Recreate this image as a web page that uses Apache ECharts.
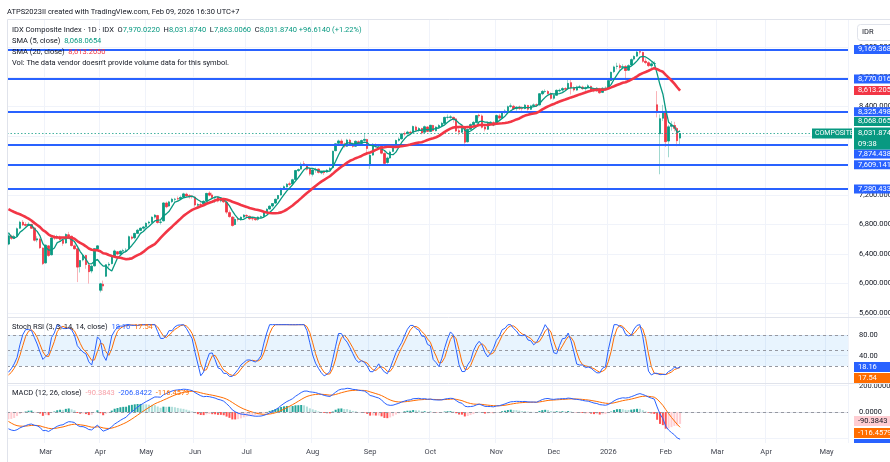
<!DOCTYPE html>
<html><head><meta charset="utf-8">
<script src="https://cdn.jsdelivr.net/npm/echarts@6/dist/echarts.min.js"></script>
<style>html,body{margin:0;padding:0;background:#fff}#c{width:890px;height:462px}</style>
</head><body><div id="c"></div>
<script>
// ---------- DATA ----------
// closes before the first visible bar (Oct 2024 - Feb 11 2025), only used to warm up indicators
const warmupCloses = [7642,7540,7528,7496,7504,7520,7479,7501,7556,7626,7658,7773,7760,7657,7637,7584,7670,7602,7606,7574,7504,7575,7632,
 7505,7480,7492,7383,7243,7287,7266,7321,7308,7214,7161,7134,7195,7180,7141,7195,7314,7200,7114,7114,
 7114,7236,7326,7313,7383,7347,7464,7395,7376,7324,7257,7157,7107,6977,6983,7097,7065,7036,7080,
 7164,7080,7080,7083,7080,7097,7088,7016,7028,7079,7107,7154,7170,7231,7257,7232,7166,7073,7109,
 6997,7073,7030,6875,6742,6648,6531];
const firstDate = '2025-02-12';
const lastDate = '2026-05-13';
const holidays = ['2025-03-28','2025-03-31','2025-04-01','2025-04-02','2025-04-03','2025-04-04','2025-04-07','2025-04-18',
 '2025-05-01','2025-05-12','2025-05-13','2025-05-29','2025-05-30','2025-06-06','2025-06-09','2025-06-27','2025-08-18',
 '2025-09-05','2025-12-24','2025-12-25','2025-12-26','2025-12-31','2026-01-01','2026-01-16','2026-02-16','2026-02-17',
 '2026-03-18','2026-03-19','2026-03-20','2026-03-23','2026-03-24','2026-04-03','2026-05-01','2026-05-14'];
// daily [open, high, low, close]
const ohlc = [
 [6535,6680,6520,6645],[6640,6660,6590,6613],[6610,6660,6600,6638],[6640,6760,6630,6742],[6750,6850,6740,6830],[6830,6860,6780,6794],[6800,6830,6770,6788],[6790,6830,6780,6803],[6800,6810,6740,6749],[6750,6760,6570,6587],[6590,6640,6560,6605],[6600,6620,6470,6485],[6480,6490,6250,6270],
 [6280,6530,6270,6519],[6510,6520,6360,6381],[6390,6630,6380,6617],[6620,6660,6590,6617],[6620,6660,6600,6636],[6630,6650,6580,6598],[6590,6600,6510,6545],[6550,6680,6540,6665],[6660,6700,6630,6647],[6640,6650,6500,6515],[6510,6530,6460,6471],[6470,6480,6020,6223],[6230,6320,6150,6311],[6320,6400,6300,6381],[6380,6390,6200,6258],[6250,6260,6000,6161],[6170,6260,6140,6235],[6240,6480,6230,6472],[6470,6520,6450,6510],
 [5910,6010,5880,5996],[5990,6040,5900,5967],[6100,6260,6090,6254],[6250,6290,6220,6262],[6270,6380,6260,6368],[6370,6460,6360,6441],[6430,6440,6380,6400],[6400,6450,6390,6438],[6440,6470,6420,6445],[6450,6480,6420,6450],[6470,6650,6460,6634],[6630,6650,6590,6613],[6620,6690,6600,6678],[6680,6740,6670,6722],[6720,6760,6710,6749],[6750,6780,6730,6766],
 [6770,6830,6750,6815],[6820,6850,6800,6832],[6830,6910,6820,6898],[6900,6940,6880,6927],[6920,6930,6810,6827],[6830,6870,6800,6832],[6850,7100,6840,7091],[7090,7110,7020,7040],[7050,7120,7040,7106],[7110,7160,7090,7141],[7140,7160,7110,7142],[7150,7180,7120,7146],[7150,7190,7130,7166],[7170,7230,7160,7214],[7210,7230,7170,7186],[7190,7210,7150,7176],[7180,7200,7150,7175],
 [7170,7180,7040,7065],[7060,7090,7030,7070],[7070,7100,7040,7069],[7080,7130,7070,7113],[7120,7230,7110,7220],[7225,7250,7180,7197],[7200,7230,7150,7166],[7160,7180,7090,7166],[7170,7180,7100,7117],[7120,7170,7100,7155],[7150,7160,7090,7107],[7100,7110,6940,6968],[6960,6990,6890,6907],[6900,6910,6770,6787],[6800,6900,6790,6869],[6870,6900,6840,6869],[6870,6910,6850,6897],[6900,6940,6880,6927],
 [6920,6940,6900,6915],[6910,6920,6860,6878],[6880,6900,6850,6878],[6880,6890,6850,6865],[6870,6910,6850,6900],[6900,6920,6880,6904],[6910,6970,6900,6954],[6960,7020,6950,7005],[7010,7060,7000,7047],[7050,7090,7030,7083],[7090,7150,7080,7141],[7150,7200,7130,7192],[7200,7300,7190,7287],[7290,7330,7280,7311],[7310,7360,7300,7345],[7350,7380,7320,7344],[7350,7420,7340,7405],[7410,7540,7400,7530],[7530,7560,7510,7543],[7550,7640,7540,7614],[7620,7660,7590,7617],[7610,7620,7530,7549],[7550,7560,7460,7484],
 [7480,7550,7450,7538],[7540,7570,7500,7546],[7550,7560,7490,7506],[7500,7530,7480,7515],[7510,7530,7470,7503],[7510,7550,7500,7533],[7540,7580,7530,7557],[7570,7800,7560,7791],[7800,7900,7790,7892],[7900,7950,7880,7931],[7930,7960,7880,7898],[7890,7910,7840,7862],[7860,7960,7850,7943],[7940,7960,7880,7890],[7890,7910,7840,7858],[7860,7940,7850,7926],[7920,7940,7880,7900],[7900,7950,7890,7936],[7940,8040,7930,7952],[7950,7960,7760,7830],
 [7620,7760,7550,7736],[7740,7900,7730,7885],[7880,7900,7840,7859],[7860,7890,7830,7867],[7860,7880,7750,7766],[7760,7790,7600,7628],[7640,7720,7620,7699],[7700,7800,7690,7780],[7790,7870,7780,7854],[7860,7950,7850,7937],[7940,7980,7920,7957],[7960,8040,7950,8025],[8030,8060,8000,8027],[8030,8070,8020,8051],[8050,8070,8020,8040],[8050,8140,8040,8126],[8120,8140,8060,8075],[8080,8120,8050,8099],[8100,8110,8020,8040],[8050,8140,8040,8123],[8120,8130,8050,8061],
 [8060,8150,8050,8143],[8140,8150,8060,8071],[8070,8130,8060,8118],[8120,8160,8100,8139],[8140,8190,8130,8170],[8170,8260,8160,8250],[8250,8290,8220,8251],[8250,8280,8230,8257],[8250,8260,8180,8227],[8230,8240,8050,8066],[8070,8100,8010,8051],[8050,8140,8040,8124],[8120,8130,7860,7915],[7920,8100,7910,8088],[8090,8170,8080,8152],[8150,8200,8120,8182],[8180,8280,8170,8274],[8280,8300,8240,8271],[8270,8290,8100,8117],[8120,8140,8060,8092],[8090,8180,8080,8167],[8170,8200,8150,8184],[8180,8200,8130,8164],
 [8170,8290,8160,8275],[8270,8300,8220,8241],[8240,8330,8230,8318],[8320,8360,8300,8337],[8340,8410,8330,8394],[8400,8440,8380,8406],[8400,8420,8350,8366],[8370,8400,8340,8388],[8390,8410,8350,8372],[8370,8400,8340,8370],[8370,8430,8360,8416],[8410,8420,8340,8362],[8360,8420,8350,8406],[8410,8440,8390,8419],[8420,8440,8390,8414],[8420,8580,8410,8570],[8570,8620,8550,8602],[8600,8630,8580,8602],[8600,8620,8560,8574],[8570,8590,8490,8508],
 [8510,8560,8490,8548],[8550,8630,8540,8616],[8610,8640,8590,8617],[8620,8660,8600,8640],[8640,8660,8610,8632],[8640,8760,8630,8710],[8720,8770,8560,8650],[8650,8670,8600,8622],[8620,8680,8610,8660],[8660,8690,8640,8660],[8660,8680,8620,8640],[8640,8670,8610,8650],[8650,8700,8640,8677],[8670,8680,8600,8619],[8620,8640,8590,8609],[8610,8660,8600,8645],[8640,8650,8570,8584],[8590,8660,8580,8644],[8640,8670,8620,8646],
 [8650,8760,8640,8748],[8750,8870,8740,8860],[8870,8950,8850,8933],[8940,8990,8900,8944],[8950,8980,8890,8925],[8930,8970,8900,8936],[8940,8960,8750,8885],[8890,8970,8880,8950],[8960,9050,8950,9032],[9040,9090,9020,9075],[9080,9150,9070,9133],[9140,9169,9100,9134],[9130,9140,8990,9010],[9010,9050,8970,8992],[8990,9010,8930,8951],[8950,9000,8920,8975],[8980,9010,8940,8980],[8420,8606,8250,8320],[8030,8290,7480,8232],[8240,8420,8200,8329],
 [8330,8340,7850,7922],[7930,8150,7710,8122],[8130,8200,8070,8146],[8140,8190,8060,8103],[8100,8120,7860,7935],[7970.022,8031.874,7863.006,8031.874]
];
const levels = [9169.368, 8770.016, 8325.498, 7874.438, 7609.141, 7280.433];
const lastPrice = 8031.874;
const priceTicks = [5600,6000,6400,6800,7200,7600,8000,8400,8800,9200];
const stochTicks = [40,80];
const stochBands = [80,50,20];
const macdLabelTicks = [0,200];
const macdGridTicks = [-200,0,200];
const monthNames = ['Jan','Feb','Mar','Apr','May','Jun','Jul','Aug','Sep','Oct','Nov','Dec'];
const legendVals = {o:'7,970.0220',h:'8,031.8740',l:'7,863.0060',c:'8,031.8740',chg:'+96.6140 (+1.22%)',sma5:'8,068.0654',sma20:'8,613.2050',
  k:'18.16',d:'17.54',hist:'-90.3843',macd:'-206.8422',signal:'-116.4579'};
const axisBoxes = {sma5:8068.065, sma20:8613.205, k:18.16, d:17.54, hist:-90.3843, macd:-206.8422, signal:-116.4579};

// ---------- helpers ----------
const hol = new Set(holidays);
function buildDates(){
  const out=[]; let t=Date.parse(firstDate+'T00:00:00Z'); const end=Date.parse(lastDate+'T00:00:00Z');
  while(t<=end){ const d=new Date(t); const wd=d.getUTCDay(); const s=d.toISOString().slice(0,10);
    if(wd!==0&&wd!==6&&!hol.has(s)) out.push(s); t+=86400000; }
  return out;
}
const dates = buildDates();
const monthStart = new Set();
for(let i=1;i<dates.length;i++){ if(dates[i].slice(0,7)!==dates[i-1].slice(0,7)) monthStart.add(i); }
function fmtLabel(v){ const m=+v.slice(5,7); return m===1? v.slice(0,4) : monthNames[m-1]; }

function sma(arr,n){const out=[];for(let i=0;i<arr.length;i++){if(i<n-1){out.push(null);continue;}let s=0,ok=true;for(let j=i-n+1;j<=i;j++){if(arr[j]==null){ok=false;break;}s+=arr[j];}out.push(ok?s/n:null);}return out;}
function ema(arr,n){const k=2/(n+1);let p=null;return arr.map(v=>{if(v==null)return null;p=p==null?v:v*k+p*(1-k);return p;});}
function rsi(arr,n){const out=[null];let ag=0,al=0;for(let i=1;i<arr.length;i++){const ch=arr[i]-arr[i-1];const g=Math.max(ch,0),l=Math.max(-ch,0);
  if(i<=n){ag+=g/n;al+=l/n;out.push(i<n?null:(al===0?100:100-100/(1+ag/al)));}else{ag=(ag*(n-1)+g)/n;al=(al*(n-1)+l)/n;out.push(al===0?100:100-100/(1+ag/al));}}return out;}
function stoch(arr,n){return arr.map((v,i)=>{if(i<n-1)return null;const w=arr.slice(i-n+1,i+1);if(w.some(x=>x==null))return null;const mn=Math.min(...w),mx=Math.max(...w);return mx===mn?0:(v-mn)/(mx-mn)*100;});}

const closes = warmupCloses.concat(ohlc.map(r=>r[3]));
const W = warmupCloses.length;
const sma5 = sma(closes,5).slice(W);
const sma20 = sma(closes,20).slice(W);
const r14 = rsi(closes,14);
const kLine = sma(stoch(r14,14),3);
const dLine = sma(kLine,3);
const kVis = kLine.slice(W), dVis = dLine.slice(W);
const e12 = ema(closes,12), e26 = ema(closes,26);
const macd = e12.map((v,i)=>v-e26[i]);
const sig = ema(macd,9);
const hist = macd.map((v,i)=>v-sig[i]);
const macdVis = macd.slice(W), sigVis = sig.slice(W);
const histVis = hist.slice(W).map((v,i,a)=>{
  const prev = i>0?a[i-1]:hist[W-1];
  let c; if(v>=0) c = v>prev?'#26a69a':'#b2dfdb'; else c = v<prev?'#ff5252':'#ffcdd2';
  return {value:v,itemStyle:{color:c}};
});

const FONT = 'Roboto, sans-serif';
const TXT = '#131722';
const GRIDC = '#f0f3fa';

function xAxis(idx,showLabel){
  return {type:'category',gridIndex:idx,data:dates,boundaryGap:true,
    axisLine:{show:showLabel,lineStyle:{color:'#e0e3eb'}},axisTick:{show:false},
    axisLabel:{show:showLabel,interval:(i)=>monthStart.has(i),formatter:(v)=>fmtLabel(v),color:'#434651',fontSize:7.5,fontFamily:FONT,margin:5},
    splitLine:{show:true,interval:(i)=>monthStart.has(i),lineStyle:{color:GRIDC,width:1}}};
}
function yAxis(idx,min,max,labelVals,gridVals,fmt){
  return {type:'value',gridIndex:idx,position:'right',min:min,max:max,
    axisLine:{show:false},axisTick:{show:false,customValues:gridVals},
    axisLabel:{customValues:labelVals,formatter:fmt,color:TXT,fontSize:7.5,fontFamily:FONT,margin:11},
    splitLine:{show:true,lineStyle:{color:GRIDC,width:1}}};
}
const fmtPrice = v=>v.toLocaleString('en-US',{minimumFractionDigits:3,maximumFractionDigits:3});

const option = {
  animation:false, backgroundColor:'#ffffff',
  grid:[{left:7,right:42,top:20,height:297,outerBoundsMode:'none'},{left:7,right:42,top:318,height:65,outerBoundsMode:'none'},{left:7,right:42,top:384,height:59,outerBoundsMode:'none'}],
  xAxis:[xAxis(0,false),xAxis(1,false),xAxis(2,true)],
  yAxis:[yAxis(0,5547,9569,priceTicks,priceTicks,fmtPrice),
         yAxis(1,-12.8,112.9,stochTicks,stochTicks,v=>v.toFixed(2)),
         yAxis(2,-235.7,213,macdLabelTicks,macdGridTicks,v=>v.toFixed(4))],
  series:[
    {type:'candlestick',xAxisIndex:0,yAxisIndex:0,barWidth:2,
     data:ohlc.map(r=>[r[0],r[3],r[2],r[1]]),
     itemStyle:{color:'rgba(8,153,129,0.38)',color0:'rgba(242,54,69,0.38)',borderColor:'rgba(8,153,129,0.38)',borderColor0:'rgba(242,54,69,0.38)',borderWidth:1},
     markLine:{silent:true,symbol:'none',animation:false,label:{show:false},
       data:levels.map(v=>({yAxis:v,lineStyle:{color:'#2962ff',width:2,type:'solid'}})).concat([{yAxis:lastPrice,lineStyle:{color:'rgba(8,153,129,0.75)',width:1,type:[1.5,2]}}])}},
    {type:'candlestick',xAxisIndex:0,yAxisIndex:0,barWidth:2,
     data:ohlc.map(r=>[r[0],r[3],Math.min(r[0],r[3]),Math.max(r[0],r[3])]),
     itemStyle:{color:'#089981',color0:'#f23645',borderColor:'#089981',borderColor0:'#f23645',borderWidth:0.6}},
    {type:'line',xAxisIndex:0,yAxisIndex:0,data:sma5,showSymbol:false,lineStyle:{color:'#089981',width:1.3},z:5},
    {type:'line',xAxisIndex:0,yAxisIndex:0,data:sma20,showSymbol:false,lineStyle:{color:'#f23645',width:2.6},z:5},
    {type:'line',xAxisIndex:1,yAxisIndex:1,data:kVis,showSymbol:false,lineStyle:{color:'#2962ff',width:1},z:5,
     markArea:{silent:true,itemStyle:{color:'rgba(33,150,243,0.1)'},data:[[{yAxis:20},{yAxis:80}]]},
     markLine:{silent:true,symbol:'none',label:{show:false},lineStyle:{color:'#9598a1',width:1,type:[3,3]},data:stochBands.map(v=>({yAxis:v}))}},
    {type:'line',xAxisIndex:1,yAxisIndex:1,data:dVis,showSymbol:false,lineStyle:{color:'#ff6d00',width:1},z:4},
    {type:'bar',xAxisIndex:2,yAxisIndex:2,data:histVis,barWidth:2,
     markLine:{silent:true,symbol:'none',label:{show:false},lineStyle:{color:'#9598a1',width:1,type:[3,3]},data:[{yAxis:0}]}},
    {type:'line',xAxisIndex:2,yAxisIndex:2,data:macdVis,showSymbol:false,lineStyle:{color:'#2962ff',width:1},z:5},
    {type:'line',xAxisIndex:2,yAxisIndex:2,data:sigVis,showSymbol:false,lineStyle:{color:'#ff6d00',width:1},z:4}
  ]
};
const chart = echarts.init(document.getElementById('c'),null,{renderer:'canvas',width:890,height:462});
chart.setOption(option);

// ---------- overlays (texts and axis value boxes) ----------
const g = [];
const F = '7.5px '+FONT;
function txt(x,y,text,color,font){ g.push({type:'text',x:x,y:y,z:120,silent:true,style:{text:text,fill:color,font:font||F,verticalAlign:'middle',align:'left'}}); }
function rich(x,y,text,richDef){ g.push({type:'text',x:x,y:y,z:120,silent:true,style:{text:text,font:F,fill:TXT,verticalAlign:'middle',rich:richDef}}); }
function box(y,text,bg,fg,h){ h=h||9; g.push({type:'rect',z:110,silent:true,shape:{x:854,y:y-h/2,width:36,height:h},style:{fill:bg}}); txt(858,y,text,fg); }
const yP = (ax,v)=>chart.convertToPixel({yAxisIndex:ax},v);

// frame & separators
g.push({type:'rect',z:90,silent:true,shape:{x:7.5,y:19.5,width:890,height:450},style:{fill:null,stroke:'#e0e3eb',lineWidth:1}});
[317.5,383.5].forEach(y=>g.push({type:'line',z:90,silent:true,shape:{x1:7,y1:y,x2:890,y2:y},style:{stroke:'#e0e3eb',lineWidth:1}}));
// header
txt(7,12.5,'ATPS2023II created with TradingView.com, Feb 09, 2026 16:30 UTC+7','#131722');
const R = {d:{fill:TXT,font:F},g:{fill:'#089981',font:F},r:{fill:'#f23645',font:F},b:{fill:'#2962ff',font:F},o:{fill:'#ff6d00',font:F},p:{fill:'#f7a1a8',font:F}};
rich(12,30,'{d|IDX Composite Index · 1D · IDX  O}{g|'+legendVals.o+'}{d|  H}{g|'+legendVals.h+'}{d|  L}{g|'+legendVals.l+'}{d|  C}{g|'+legendVals.c+' '+legendVals.chg+'}',R);
rich(12,41.5,'{d|SMA (5, close)  }{g|'+legendVals.sma5+'}',R);
rich(12,52.5,'{d|SMA (20, close)  }{r|'+legendVals.sma20+'}',R);
txt(12,63,"Vol: The data vendor doesn't provide volume data for this symbol.",TXT);
rich(12,327.5,'{d|Stoch RSI (3, 3, 14, 14, close)  }{b|'+legendVals.k+'}{d|  }{o|'+legendVals.d+'}',R);
rich(12,393,'{d|MACD (12, 26, close)  }{p|'+legendVals.hist+'}{d|  }{b|'+legendVals.macd+'}{d|  }{o|'+legendVals.signal+'}',R);
// IDR box
g.push({type:'rect',z:110,silent:true,shape:{x:857.5,y:24.5,width:40,height:16,r:3},style:{fill:'#fff',stroke:'#e0e3eb',lineWidth:1}});
txt(862,32.5,'IDR',TXT);
// main pane boxes
levels.forEach(v=>{
  let y=yP(0,v); if(Math.abs(v-7874.438)<1e-6) y=yP(0,lastPrice)+20.5;
  box(y,fmtPrice(v),'#2962ff','#ffffff');
});
box(yP(0,axisBoxes.sma20),fmtPrice(axisBoxes.sma20),'#f23645','#ffffff');
const py = yP(0,lastPrice);
box(py-12,fmtPrice(axisBoxes.sma5),'#089981','#ffffff');
g.push({type:'rect',z:110,silent:true,shape:{x:854,y:py-6,width:36,height:22},style:{fill:'#089981'}});
txt(858,py-0.5,fmtPrice(lastPrice),'#ffffff');
txt(858,py+10.5,'09:38','#ffffff');
g.push({type:'rect',z:110,silent:true,shape:{x:812,y:py-5,width:40,height:10},style:{fill:'#089981'}});
txt(815,py,'COMPOSITE','#ffffff','7px '+FONT);
// stoch boxes
const ky = yP(1,axisBoxes.k);
box(ky,legendVals.k,'#2962ff','#ffffff',10);
box(ky+11,legendVals.d,'#ff6d00','#ffffff',10);
// macd boxes
const hy = yP(2,axisBoxes.hist)-3;
box(hy,legendVals.hist,'#ffcdd2','#131722',10);
box(hy+12,legendVals.signal,'#ff6d00','#ffffff',10);
g.push({type:'rect',z:110,silent:true,shape:{x:854,y:hy+18,width:36,height:443-(hy+18)},style:{fill:'#2962ff'}});
chart.setOption({graphic:g});
</script></body></html>
